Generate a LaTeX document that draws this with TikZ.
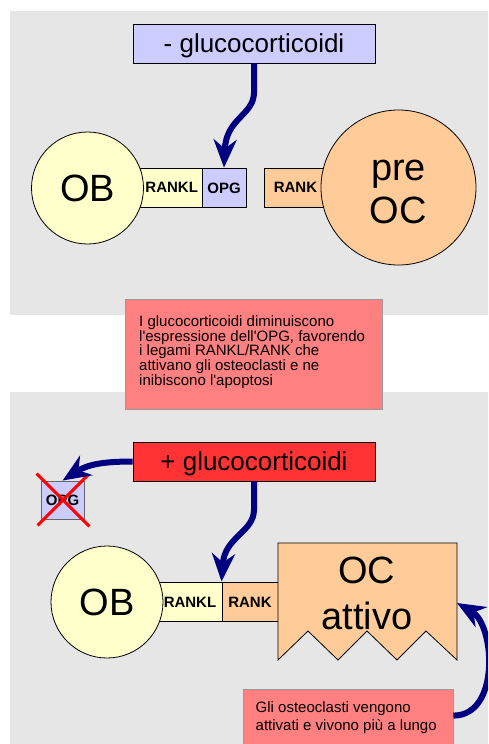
\documentclass[tikz,border=0pt]{standalone}
\usepackage{fontspec}
\setmainfont{Liberation Sans}
\usetikzlibrary{arrows.meta}
\definecolor{panelgray}{HTML}{E6E6E6}
\definecolor{lavender}{HTML}{CCCCFF}
\definecolor{paleyellow}{HTML}{FFFFCC}
\definecolor{peach}{HTML}{FFCC99}
\definecolor{salmon}{HTML}{FF8080}
\definecolor{alertred}{HTML}{FF3333}
\definecolor{notegray}{HTML}{999999}
\definecolor{boxgray}{HTML}{666666}
\definecolor{arrownavy}{HTML}{000080}
\definecolor{crossred}{HTML}{FF0000}

\begin{document}
\begin{tikzpicture}[x=1pt,y=-1pt,
  cell/.style={rectangle,draw=black,line width=0.8pt,inner sep=0pt,minimum height=39pt},
  cellb/.style={cell,font=\bfseries\fontsize{15}{17}\selectfont,text height=11pt,text depth=0pt},
  tag/.style={inner sep=0pt,font=\bfseries\fontsize{15}{17}\selectfont,text height=11pt,text depth=0pt},
  title/.style={cell,minimum width=242pt,font=\fontsize{26}{30}\selectfont,text height=19pt,text depth=1pt},
  cellcircle/.style={circle,draw=black,line width=0.8pt,inner sep=0pt},
  bigtext/.style={inner sep=0pt,anchor=base,font=\fontsize{38}{44}\selectfont},
  celltext/.style={font=\fontsize{38}{44}\selectfont,text height=27pt,text depth=0pt},
  notebox/.style={rectangle,draw=notegray,fill=salmon,line width=0.8pt,inner sep=0pt},
  % anchored at the baseline of the last line
  notetext/.style={inner sep=0pt,anchor=base west,align=left,font=\fontsize{15}{#1}\selectfont},
  flow/.style={draw=arrownavy,line width=6pt,-{Stealth[length=28pt,width=23pt,inset=9pt]}},
  cross/.style={draw=crossred,line width=3pt}
]
\useasboundingbox (0,0) rectangle (488,744);
\clip (0,0) rectangle (488,744);
\fill[white] (0,0) rectangle (488,744);

% two panels
\fill[panelgray] (10,11) rectangle (495,314.5);
\fill[panelgray] (10,392) rectangle (495,750);

% ---- without glucocorticoids ----
\node[title,fill=lavender] (minus) at (254,43.5) {- glucocorticoidi};

\node[cell,fill=paleyellow,minimum width=72pt] (ranklA) at (166,187.5) {};
\node[cellb,fill=lavender,minimum width=44pt] (opgA) at (224,187.5) {OPG};
\node[cellcircle,celltext,fill=paleyellow,minimum size=112pt] (obA) at (87.5,188) {OB};
\node[tag] (ranklAt) at (171.7,187.2) {RANKL};

\node[cell,fill=peach,minimum width=76pt] (rankA) at (302,187.5) {};
\node[cellcircle,fill=peach,minimum size=155pt] (preoc) at (398.5,187.5) {};
\node[tag] (rankAt) at (295.5,187.2) {RANK};
\node[bigtext] (preocT1) at (398.5,180) {pre};
\node[bigtext] (preocT2) at (398,223) {OC};

% explanatory note
\node[notebox,minimum width=257pt,minimum height=110pt] (note1) at (253.5,354) {};
\node[notetext=14.8] (note1t) at (139,385.4) {I glucocorticoidi diminuiscono\\l\textquotesingle espressione dell\textquotesingle OPG, favorendo\\i legami RANKL/RANK che\\attivano gli osteoclasti e ne\\inibiscono l\textquotesingle apoptosi};

% ---- with glucocorticoids ----
\node[title,fill=alertred] (plus) at (254,461.5) {+ glucocorticoidi};

\node[cellb,draw=boxgray,fill=lavender,minimum width=43pt,minimum height=38pt] (opgX) at (62.5,500) {OPG};
\draw[cross] ([shift={(-4,-7)}]opgX.north west) -- ([shift={(5,7)}]opgX.south east);
\draw[cross] ([shift={(-3,6)}]opgX.south west) -- ([shift={(4,-6)}]opgX.north east);

\node[cell,fill=paleyellow,minimum width=72pt] (ranklB) at (186,601.5) {};
\node[cellb,fill=peach,minimum width=56pt] (rankB) at (250,601.5) {RANK};
\node[cellcircle,celltext,fill=paleyellow,minimum size=112pt] (obB) at (107,602) {OB};
\node[tag] (ranklBt) at (190,602) {RANKL};

% active osteoclast with resorbing edge
\draw[fill=peach,draw=black,line width=0.8pt]
  (278,543) -- (457,543) -- (457,660) -- (426,631) -- (397,660) -- (367,631)
  -- (338,660) -- (308,631) -- (278,660) -- cycle;
\coordinate (ocR) at (457,603);
\node[bigtext] (ocT1) at (366.7,583.5) {OC};
\node[bigtext] (ocT2) at (367,629) {attivo};

\node[notebox,minimum width=210pt,minimum height=72pt] (note2) at (348,725) {};
\node[notetext=17.3] (note2t) at (255.5,730) {Gli osteoclasti vengono\\attivati e vivono più a lungo};

% arrows
\draw[flow] (minus.south) -- ++(0,29) .. controls +(0,23) and +(2,-50) .. (opgA.north);
\draw[flow] (plus.south) -- ++(0,28) .. controls +(0,23) and +(3,-45) .. (rankB.north west);
\draw[flow] (plus.west) .. controls +(-30,0) and +(25,-16) .. (opgX.north);
\draw[flow] ([shift={(0,27)}]note2.north east) .. controls +(47,0) and +(38,22) .. (ocR);
\end{tikzpicture}
\end{document}
